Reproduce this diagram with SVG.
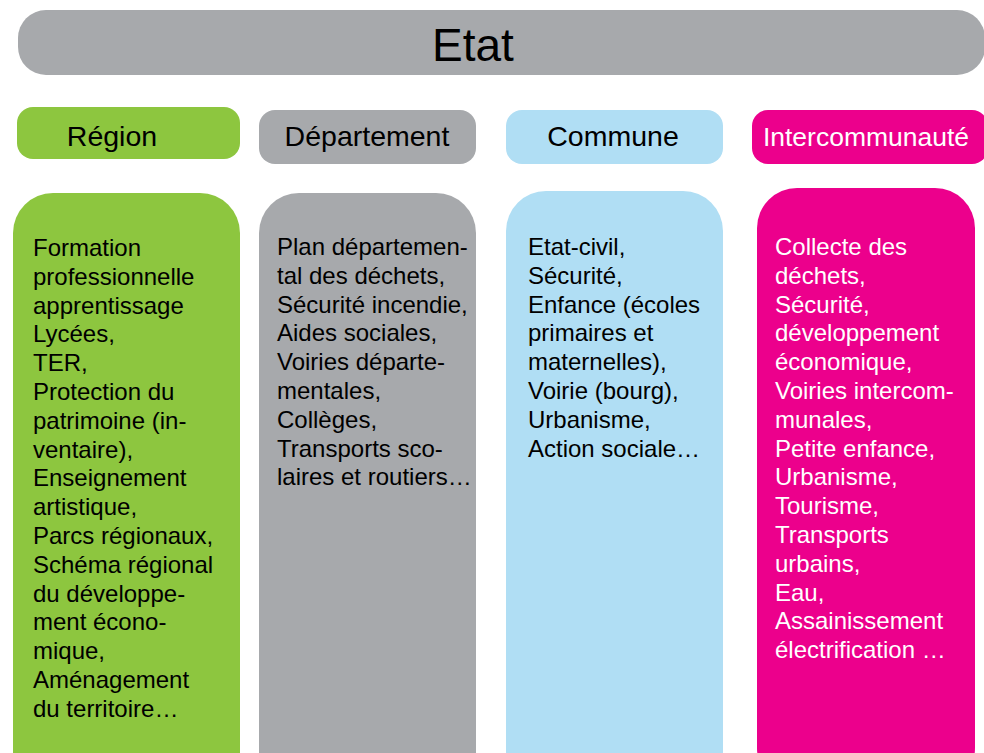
<svg xmlns="http://www.w3.org/2000/svg" width="984" height="753" viewBox="0 0 984 753">
<style>
text{font-family:"Liberation Sans",Arial,sans-serif}
.hd{font-size:28.5px;text-anchor:middle}
.bd{font-size:24px}
.g{fill:#8DC63F}.gr{fill:#A7A9AC}.b{fill:#B0DEF4}.m{fill:#EC008C}
.k{fill:#000}.w{fill:#fff}
</style>
<rect width="984" height="753" fill="#fff"/>
<g id="etat">
<rect x="18" y="10" width="967" height="65" rx="28" class="gr"/>
<text x="473" y="61" class="k" style="font-size:46px;text-anchor:middle">Etat</text>
</g>
<g id="region-header">
<rect x="17" y="107" width="223" height="52" rx="16" class="g"/>
<text x="112" y="146" class="hd k">Région</text>
</g>
<g id="departement-header">
<rect x="259" y="110" width="217" height="54" rx="16" class="gr"/>
<text x="367" y="146" class="hd k">Département</text>
</g>
<g id="commune-header">
<rect x="506" y="110" width="217" height="54" rx="16" class="b"/>
<text x="613" y="146" class="hd k">Commune</text>
</g>
<g id="intercommunaute-header">
<rect x="752" y="110" width="236" height="54" rx="16" class="m"/>
<text x="866" y="146" class="hd w" style="font-size:26.5px">Intercommunauté</text>
</g>
<g id="region-body">
<rect x="13" y="193" width="227" height="600" rx="40" class="g"/>
<text class="bd k" x="33" y="256">
<tspan x="33" dy="0">Formation</tspan>
<tspan x="33" dy="28.8">professionnelle</tspan>
<tspan x="33" dy="28.8">apprentissage</tspan>
<tspan x="33" dy="28.8">Lycées,</tspan>
<tspan x="33" dy="28.8">TER,</tspan>
<tspan x="33" dy="28.8">Protection du</tspan>
<tspan x="33" dy="28.8">patrimoine (in-</tspan>
<tspan x="33" dy="28.8">ventaire),</tspan>
<tspan x="33" dy="28.8">Enseignement</tspan>
<tspan x="33" dy="28.8">artistique,</tspan>
<tspan x="33" dy="28.8">Parcs régionaux,</tspan>
<tspan x="33" dy="28.8">Schéma régional</tspan>
<tspan x="33" dy="28.8">du développe-</tspan>
<tspan x="33" dy="28.8">ment écono-</tspan>
<tspan x="33" dy="28.8">mique,</tspan>
<tspan x="33" dy="28.8">Aménagement</tspan>
<tspan x="33" dy="28.8">du territoire…</tspan>
</text>
</g>
<g id="departement-body">
<rect x="259" y="193" width="217" height="600" rx="40" class="gr"/>
<text class="bd k" x="277" y="255">
<tspan x="277" dy="0">Plan départemen-</tspan>
<tspan x="277" dy="28.8">tal des déchets,</tspan>
<tspan x="277" dy="28.8">Sécurité incendie,</tspan>
<tspan x="277" dy="28.8">Aides sociales,</tspan>
<tspan x="277" dy="28.8">Voiries départe-</tspan>
<tspan x="277" dy="28.8">mentales,</tspan>
<tspan x="277" dy="28.8">Collèges,</tspan>
<tspan x="277" dy="28.8">Transports sco-</tspan>
<tspan x="277" dy="28.8">laires et routiers…</tspan>
</text>
</g>
<g id="commune-body">
<rect x="506" y="191" width="217" height="600" rx="40" class="b"/>
<text class="bd k" x="528" y="255">
<tspan x="528" dy="0">Etat-civil,</tspan>
<tspan x="528" dy="28.8">Sécurité,</tspan>
<tspan x="528" dy="28.8">Enfance (écoles</tspan>
<tspan x="528" dy="28.8">primaires et</tspan>
<tspan x="528" dy="28.8">maternelles),</tspan>
<tspan x="528" dy="28.8">Voirie (bourg),</tspan>
<tspan x="528" dy="28.8">Urbanisme,</tspan>
<tspan x="528" dy="28.8">Action sociale…</tspan>
</text>
</g>
<g id="intercommunaute-body">
<rect x="757" y="188" width="218" height="600" rx="40" class="m"/>
<text class="bd w" x="775" y="255">
<tspan x="775" dy="0">Collecte des</tspan>
<tspan x="775" dy="28.8">déchets,</tspan>
<tspan x="775" dy="28.8">Sécurité,</tspan>
<tspan x="775" dy="28.8">développement</tspan>
<tspan x="775" dy="28.8">économique,</tspan>
<tspan x="775" dy="28.8">Voiries intercom-</tspan>
<tspan x="775" dy="28.8">munales,</tspan>
<tspan x="775" dy="28.8">Petite enfance,</tspan>
<tspan x="775" dy="28.8">Urbanisme,</tspan>
<tspan x="775" dy="28.8">Tourisme,</tspan>
<tspan x="775" dy="28.8">Transports</tspan>
<tspan x="775" dy="28.8">urbains,</tspan>
<tspan x="775" dy="28.8">Eau,</tspan>
<tspan x="775" dy="28.8">Assainissement</tspan>
<tspan x="775" dy="28.8">électrification …</tspan>
</text>
</g>
<g id="connectors"/>
</svg>
